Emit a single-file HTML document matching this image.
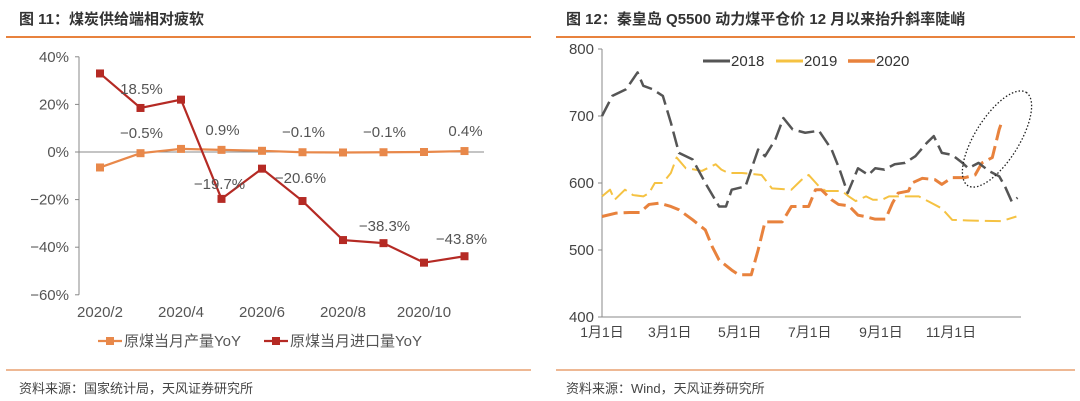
<!DOCTYPE html>
<html><head><meta charset="utf-8">
<style>
body{margin:0;width:1080px;height:401px;background:#fff;overflow:hidden;font-family:"Liberation Sans","Noto Sans CJK SC",sans-serif;}
svg{position:absolute;left:0;top:0}
</style></head>
<body>
<svg width="1080" height="401">
<g>
<text x="19" y="24" font-size="15" font-weight="bold" fill="#333">图 11：煤炭供给端相对疲软</text>
<line x1="6" y1="37" x2="531" y2="37" stroke="#e8823d" stroke-width="2"/>
</g>
<g>
<text x="566" y="24" font-size="15" font-weight="bold" fill="#333">图 12：秦皇岛 Q5500 动力煤平仓价 12 月以来抬升斜率陡峭</text>
<line x1="556" y1="37" x2="1075" y2="37" stroke="#e8823d" stroke-width="2"/>
</g>
<line x1="6" y1="370" x2="531" y2="370" stroke="#e8a070" stroke-width="1.5"/>
<line x1="556" y1="370" x2="1075" y2="370" stroke="#e8a070" stroke-width="1.5"/>
<text x="19" y="393" font-size="13" fill="#444">资料来源：国家统计局，天风证券研究所</text>
<text x="566" y="393" font-size="13" fill="#444">资料来源：Wind，天风证券研究所</text>
<g id="left"></g>
<g id="right"></g>
</svg>
<script>
const NS="http://www.w3.org/2000/svg";
function mk(p,tag,attrs,txt){const e=document.createElementNS(NS,tag);for(const k in attrs)e.setAttribute(k,attrs[k]);if(txt!==undefined)e.textContent=txt;p.appendChild(e);return e;}

// ---- Left chart data ----
const months=["2020/2","2020/3","2020/4","2020/5","2020/6","2020/7","2020/8","2020/9","2020/10","2020/11"];
const prodYoY=[-6.5,-0.5,1.3,0.9,0.5,-0.1,-0.2,-0.1,0.0,0.4];
const importYoY=[33,18.5,22,-19.7,-7,-20.6,-37,-38.3,-46.5,-43.8];
const leftTicks=[40,20,0,-20,-40,-60];
const prodLabelIdx=[1,3,5,7,9];
const importLabelIdx=[1,3,5,7,9];

// ---- Right chart data ----
const monthTicks=["1月1日","3月1日","5月1日","7月1日","9月1日","11月1日"];
const monthTickDays=[0,59,120,181,243,304];
const rightTicks=[400,500,600,700,800];
const d2018=[0,9,21,31,36,44,53,60,67,79,90,102,108,113,125,130,136,142,151,158,166,177,189,200,207,214,223,232,238,246,255,264,273,283,289,296,305,314,319,328,337,346,351,357,362];
const v2018=[700,730,740,765,745,740,730,690,645,635,600,565,565,590,595,620,650,640,665,697,680,675,678,650,620,585,622,612,622,620,628,630,640,660,670,645,642,630,622,630,618,610,595,572,578];
const d2019=[0,7,11,20,27,36,41,46,53,60,65,73,81,87,99,104,110,122,139,148,165,174,180,189,195,209,215,221,230,236,244,250,276,285,296,305,319,348,361];
const v2019=[580,590,575,590,582,580,585,600,600,615,638,622,620,618,628,620,615,615,612,592,590,605,612,595,588,588,580,573,580,575,575,580,580,572,562,545,544,543,550];
const d2020=[0,12,24,33,41,50,60,67,79,90,96,102,113,119,130,136,142,157,165,180,186,191,200,206,215,223,229,238,247,253,258,267,270,279,290,296,305,316,325,331,340,346,348];
const v2020=[550,555,556,556,568,570,565,560,545,530,505,485,470,463,463,500,542,542,565,565,590,590,575,568,566,552,550,546,546,570,585,588,600,607,605,598,608,608,612,630,638,680,690];

// Left chart
const L=document.getElementById('left');
const lx=i=>100+i*40.5, ly=v=>152-v*2.38;
mk(L,'line',{x1:79,y1:ly(40),x2:79,y2:ly(-60),stroke:'#888','stroke-width':1,});
leftTicks.forEach(t=>{
 const tk=mk(L,'line',{x1:75,y1:ly(t),x2:79,y2:ly(t),stroke:'#888'});
 
 const tx=mk(L,'text',{x:69,y:ly(t)+5,'font-size':15,fill:'#555','text-anchor':'end'},(t<0?'−'+(-t):t)+'%');
 
});
mk(L,'line',{x1:79,y1:ly(0),x2:484,y2:ly(0),stroke:'#888','stroke-width':1,});
months.forEach((m,i)=>{if(i%2===0){const t=mk(L,'text',{x:lx(i),y:317,'font-size':15,fill:'#555','text-anchor':'middle'},m);
 }});
function series(vals,color,name){
 const p=mk(L,'polyline',{points:vals.map((v,i)=>lx(i)+','+ly(v)).join(' '),fill:'none',stroke:color,'stroke-width':2.2});
 
 vals.forEach((v,i)=>{const r=mk(L,'rect',{x:lx(i)-4,y:ly(v)-4,width:8,height:8,fill:color});
  });
}
series(prodYoY,'#e8884a','production-yoy');
series(importYoY,'#b52a24','import-yoy');
function fmt(v){return (v<0?'−':'')+Math.abs(v).toFixed(1)+'%';}
prodLabelIdx.forEach(i=>{const t=mk(L,'text',{x:lx(i)+1,y:ly(prodYoY[i])-15,'font-size':15,fill:'#555','text-anchor':'middle'},fmt(prodYoY[i]));
 });
importLabelIdx.forEach(i=>{let dx=1,dy=-14;if(i===3){dx=-2;dy=-10;}if(i===5){dx=-2;dy=-18;}if(i===7){dy=-12;}if(i===9){dx=-3;dy=-12;}
 const t=mk(L,'text',{x:lx(i)+dx,y:ly(importYoY[i])+dy,'font-size':15,fill:'#555','text-anchor':'middle'},fmt(importYoY[i]));
 });
// legend
mk(L,'line',{x1:98,y1:341,x2:122,y2:341,stroke:'#e8884a','stroke-width':2.2,});
mk(L,'rect',{x:106,y:337,width:8,height:8,fill:'#e8884a',});
mk(L,'text',{x:124,y:346,'font-size':15,fill:'#555',},'原煤当月产量YoY');
mk(L,'line',{x1:264,y1:341,x2:288,y2:341,stroke:'#b52a24','stroke-width':2.2,});
mk(L,'rect',{x:272,y:337,width:8,height:8,fill:'#b52a24',});
mk(L,'text',{x:290,y:346,'font-size':15,fill:'#555',},'原煤当月进口量YoY');

// Right chart
const R=document.getElementById('right');
const rx=d=>602+d*1.148, ry=v=>317-(v-400)*0.67;
mk(R,'line',{x1:602,y1:ry(800),x2:602,y2:ry(400),stroke:'#888',});
mk(R,'line',{x1:602,y1:ry(400),x2:1021,y2:ry(400),stroke:'#888',});
rightTicks.forEach(t=>{
 const tk=mk(R,'line',{x1:598,y1:ry(t),x2:602,y2:ry(t),stroke:'#888'});
 
 const tx=mk(R,'text',{x:594,y:ry(t)+5,'font-size':15,fill:'#444','text-anchor':'end'},String(t));
 
});
monthTicks.forEach((m,i)=>{const t=mk(R,'text',{x:rx(monthTickDays[i]),y:337,'font-size':14,fill:'#444','text-anchor':'middle'},m);
 });
function rline(ds,vs,color,w,name){
 const p=mk(R,'polyline',{points:ds.map((d,i)=>rx(d)+','+ry(vs[i])).join(' '),fill:'none',stroke:color,'stroke-width':w,'stroke-dasharray':'16 6','stroke-linejoin':'round'});
 
}
rline(d2019,v2019,'#f5c242',2,'series-2019');
rline(d2020,v2020,'#e8823d',3,'series-2020');
rline(d2018,v2018,'#555555',2.5,'series-2018');
mk(R,'ellipse',{cx:997,cy:139,rx:55,ry:22,transform:'rotate(-58 997 139)',fill:'none',stroke:'#222','stroke-width':1.3,'stroke-dasharray':'1.5 2',});
// legend
mk(R,'line',{x1:703,y1:61,x2:730,y2:61,stroke:'#555','stroke-width':3,});
mk(R,'text',{x:731,y:66,'font-size':15,fill:'#333',},'2018');
mk(R,'line',{x1:776,y1:61,x2:803,y2:61,stroke:'#f5c242','stroke-width':3,});
mk(R,'text',{x:804,y:66,'font-size':15,fill:'#333',},'2019');
mk(R,'line',{x1:848,y1:61,x2:875,y2:61,stroke:'#e8823d','stroke-width':3.5,});
mk(R,'text',{x:876,y:66,'font-size':15,fill:'#333',},'2020');
</script>
</body></html>
